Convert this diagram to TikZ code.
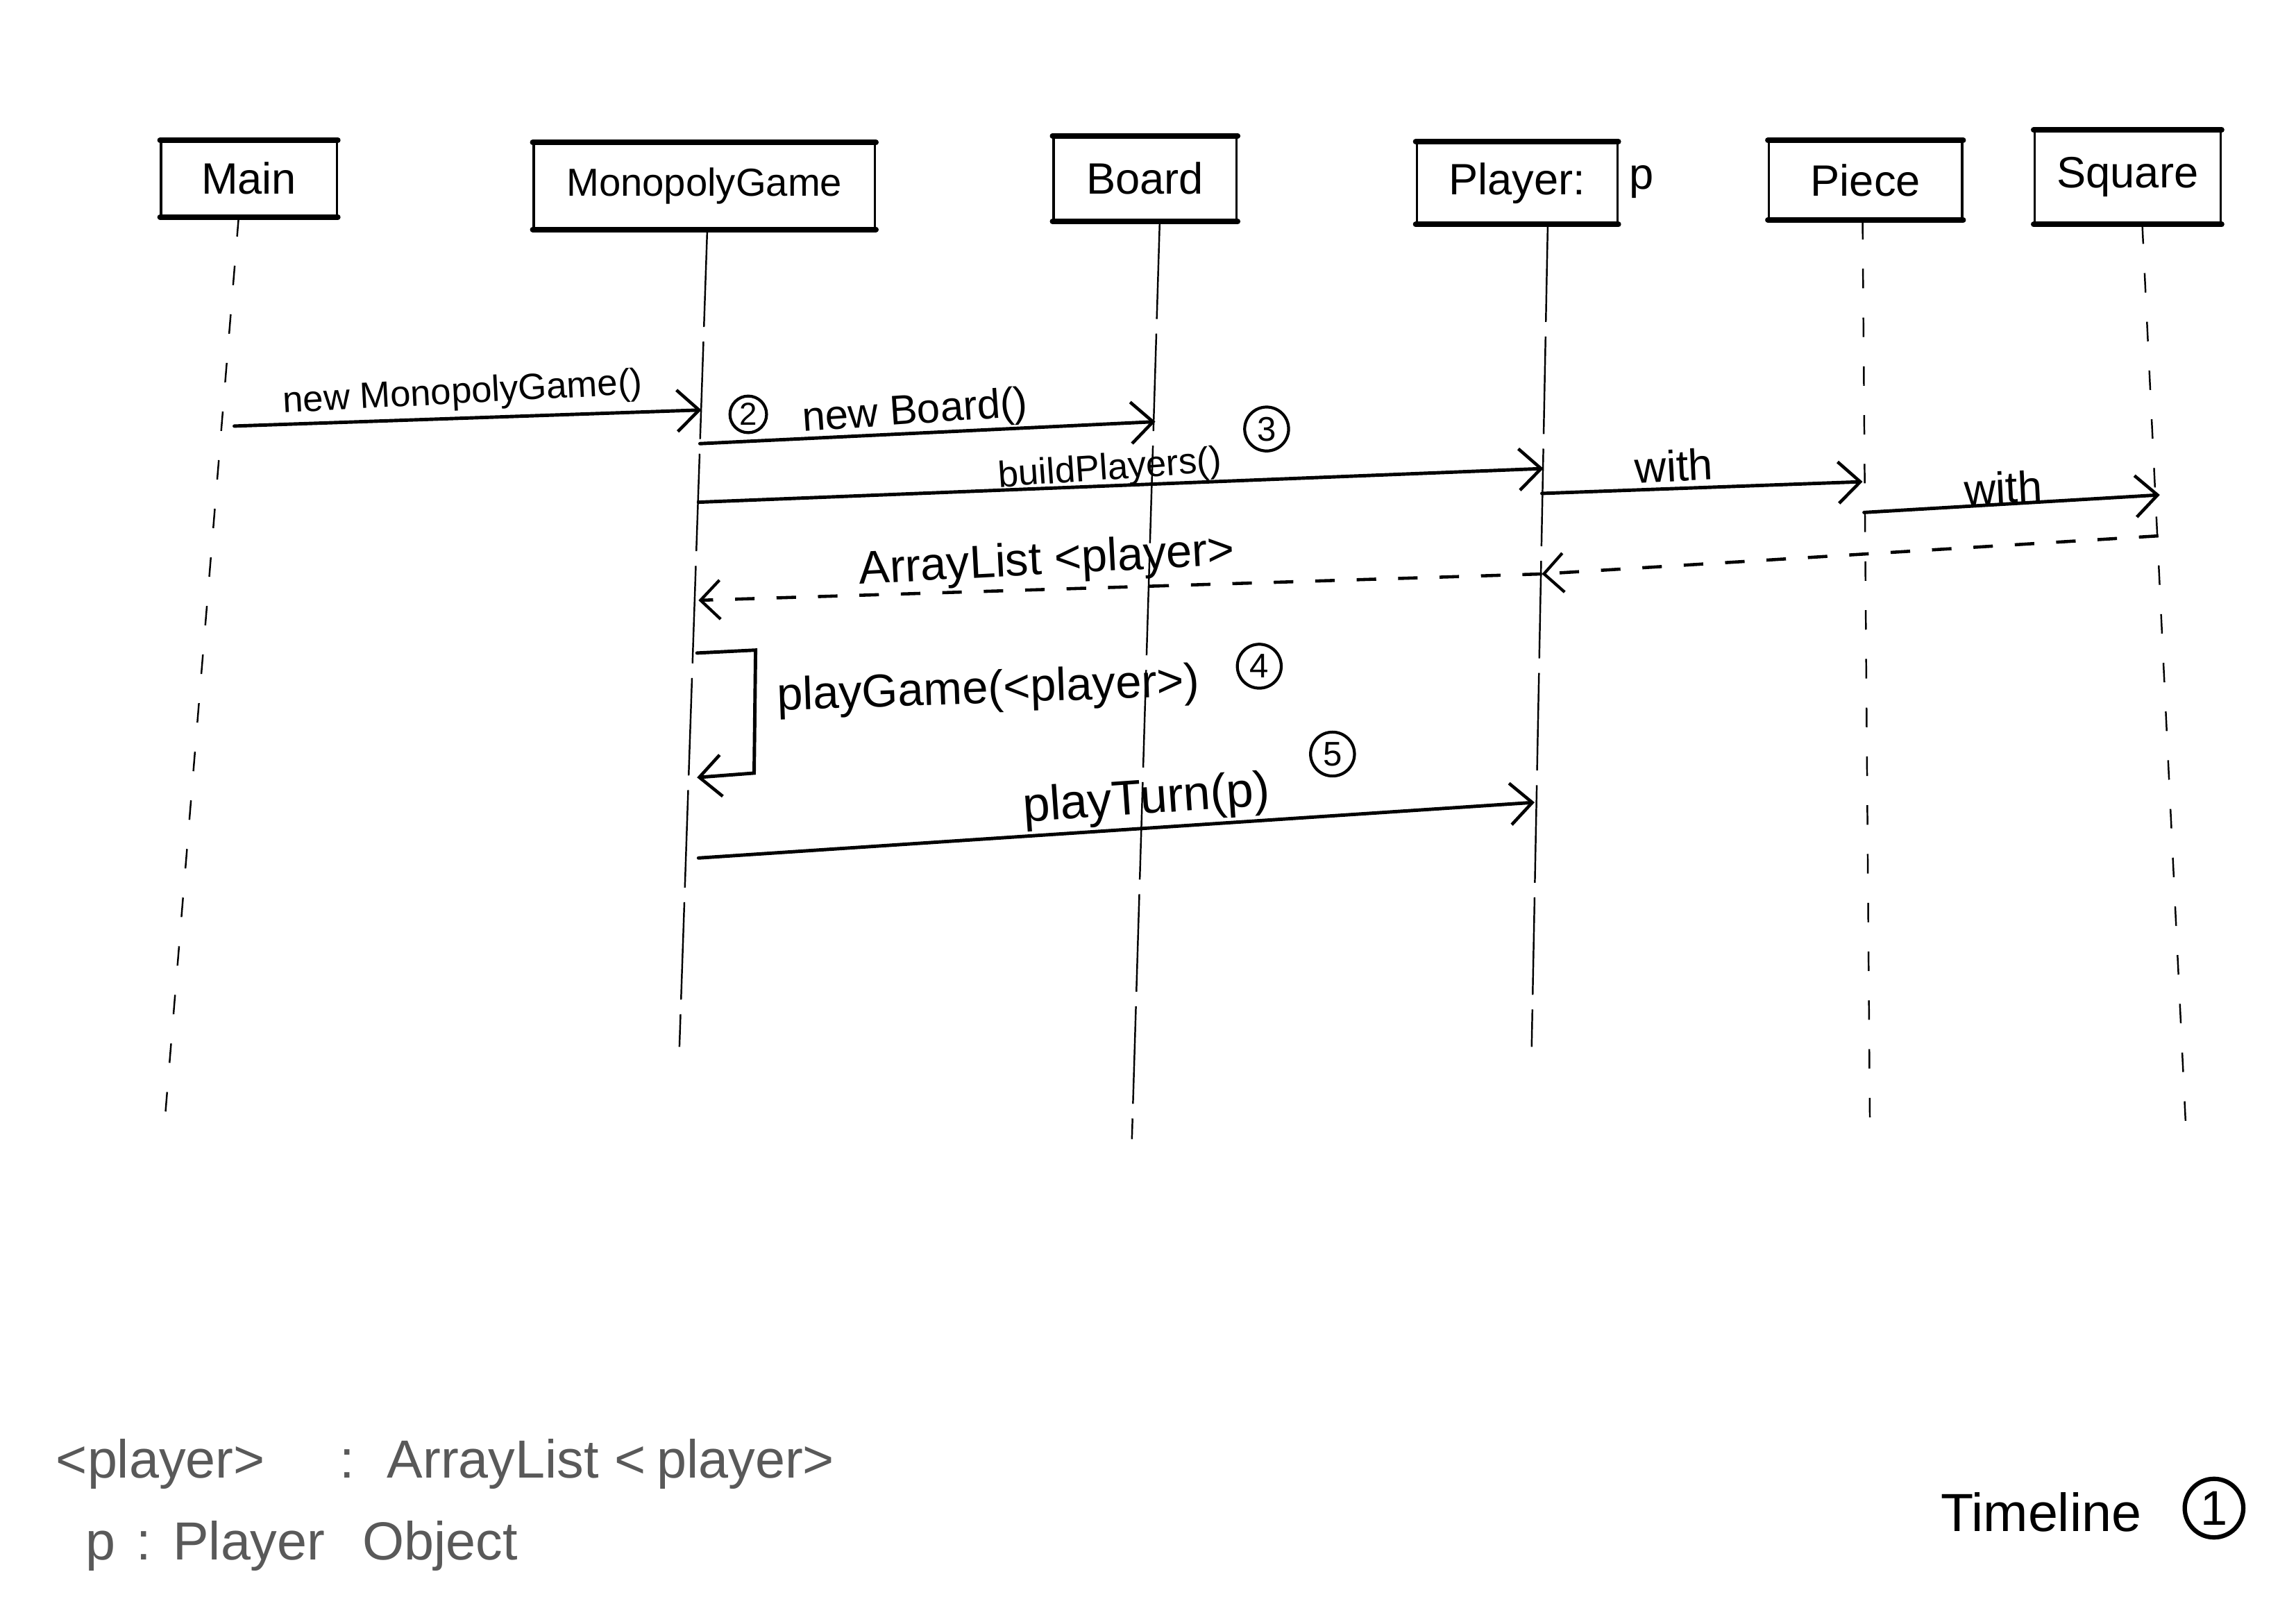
\documentclass[tikz,border=0pt]{standalone}
\usepackage{fontspec}
\setmainfont{Liberation Sans}
\usetikzlibrary{arrows.meta,calc}
\newcommand\pxu{0.0210969cm}
\newcommand\fs[1]{\fontsize{#1}{#1}\selectfont}
\begin{document}
\begin{tikzpicture}[x=0.0210969cm,y=-0.0210969cm,
  objbox/.style 2 args={draw, line width=0.9pt, inner sep=0pt,
    minimum width=#1*\pxu, minimum height=#2*\pxu, font=\fs{18}},
  boxedge/.style={line width=2.2pt, line cap=round},
  lifeline/.style={line width=0.7pt, dash pattern=on 40pt off 6pt},
  lifelinesparse/.style={line width=0.7pt, dash pattern=on 8pt off 12pt},
  msg/.style={line width=1.4pt, line cap=round,
    -{Straight Barb[length=9pt,width=17pt,line width=1.3pt]}},
  ret/.style={line width=1.3pt, dash pattern=on 8pt off 9pt,
    -{Straight Barb[length=8pt,width=16pt,line width=1.2pt]}},
  lbl/.style={inner sep=0pt, anchor=center},
  numcirc/.style={draw, circle, line width=1.2pt, inner sep=0pt,
    minimum size=#1*\pxu, font=\fs{14}},
  legend/.style={inner sep=0pt, anchor=west, text=black!65, font=\fs{22}}
]
% paper
\fill[white] (0,0) rectangle (1568,1103);
\useasboundingbox (0,0) rectangle (1568,1103);

% object boxes
\node[objbox={120}{51}]  (main)   at (170,122)  {Main};
\node[objbox={233}{58}, font=\fs{16}] (game) at (481,127) {MonopolyGame};
\node[objbox={125}{57}]  (board)  at (782,122)  {Board};
\node[objbox={137}{55}]  (player) at (1036,125) {Player:\hspace{0.2em}};
\node[lbl, font=\fs{18}] (pname) at (1121,124) {p};
\node[objbox={132}{53}]  (piece)  at (1274,123) {Piece};
\node[objbox={127}{63}]  (square) at (1453,121) {Square};

\foreach \b in {main,game,board,player,piece,square}{
  \draw[boxedge] (\b.north west) -- (\b.north east);
  \draw[boxedge] (\b.south west) -- (\b.south east);
}

% lifelines
\coordinate (mainTop)   at ($(main.south)+(-7,0)$);
\coordinate (gameTop)   at ($(game.south)+(2,0)$);
\coordinate (boardTop)  at ($(board.south)+(10,0)$);
\coordinate (playerTop) at ($(player.south)+(21,0)$);
\coordinate (pieceTop)  at ($(piece.south)+(-2,0)$);
\coordinate (squareTop) at ($(square.south)+(10,0)$);
\coordinate (mainEnd)   at (112,772);
\coordinate (gameEnd)   at (464,715);
\coordinate (boardEnd)  at (773,778);
\coordinate (playerEnd) at (1046,715);
\coordinate (pieceEnd)  at (1277,768);
\coordinate (squareEnd) at (1493,775);
\draw[lifelinesparse] (mainTop) -- (mainEnd);
\draw[lifeline] (gameTop) -- (gameEnd);
\draw[lifeline] (boardTop) -- (boardEnd);
\draw[lifeline] (playerTop) -- (playerEnd);
\draw[lifelinesparse] (pieceTop) -- (pieceEnd);
\draw[lifelinesparse] (squareTop) -- (squareEnd);

% message end points on the lifelines
\coordinate (m1a) at (160,291);  \coordinate (m1b) at (479,280);
\coordinate (m2a) at (478,303);  \coordinate (m2b) at (789,288);
\coordinate (m3a) at (477,343);  \coordinate (m3b) at (1054,320);
\coordinate (m4a) at (1053,337); \coordinate (m4b) at (1272,329);
\coordinate (m5a) at (1273,350); \coordinate (m5b) at (1475,338);
\coordinate (r0)  at (1474,366); \coordinate (r1)  at (1053,392);
\coordinate (r2)  at (477,410);
\coordinate (s0)  at (476,446);  \coordinate (s1)  at (516,444);
\coordinate (s2)  at (515,528);  \coordinate (s3)  at (476,531);
\coordinate (m7a) at (477,586);  \coordinate (m7b) at (1048,548);

% calls
\draw[msg] (m1a) -- (m1b);
\draw[msg] (m2a) -- (m2b);
\draw[msg] (m3a) -- (m3b);
\draw[msg] (m4a) -- (m4b);
\draw[msg] (m5a) -- (m5b);
\draw[msg] (s0) -- (s1) -- (s2) -- (s3);
\draw[msg] (m7a) -- (m7b);

% returned list
\draw[ret] (r0) -- (r1);
\draw[ret] (r1) -- (r2);

% message labels
\node[lbl, font=\fs{15}, rotate=3] (l1) at (316,269) {new MonopolyGame()};
\node[lbl, font=\fs{17}, rotate=4] (l2) at (625,282) {new Board()};
\node[lbl, font=\fs{15}, rotate=4] (l3) at (758,321) {buildPlayers()};
\node[lbl, font=\fs{18}, rotate=3] (l4) at (1143,318) {with};
\node[lbl, font=\fs{18}, rotate=3] (l5) at (1368,333) {with};
\node[lbl, font=\fs{19}, rotate=3] (l6) at (715,384) {ArrayList <player>};
\node[lbl, font=\fs{19}, rotate=2] (l7) at (675,472) {playGame(<player>)};
\node[lbl, font=\fs{20}, rotate=4] (l8) at (783,547) {playTurn(p)};

% step numbers
\node[numcirc=25, font=\fs{13}] (c2) at (511,283) {2};
\node[numcirc=30] (c3) at (865,293) {3};
\node[numcirc=30] (c4) at (860,455) {4};
\node[numcirc=30] (c5) at (910,515) {5};

% legend
\node[legend] (leg1) at (38,1000) {<player>\hspace{1.4em}:\hspace{0.6em}ArrayList\hspace{0.3em}<\hspace{0.2em}player>};
\node[legend] (leg2) at (58,1056) {p\hspace{0.4em}:\hspace{0.4em}Player\hspace{0.7em}Object};

% timeline marker
\node[lbl, anchor=west, font=\fs{22}] (tl) at (1325,1033) {Timeline};
\node[numcirc=40, line width=1.8pt, font=\fs{20}] (c1) at (1512,1030) {1};
\end{tikzpicture}
\end{document}
